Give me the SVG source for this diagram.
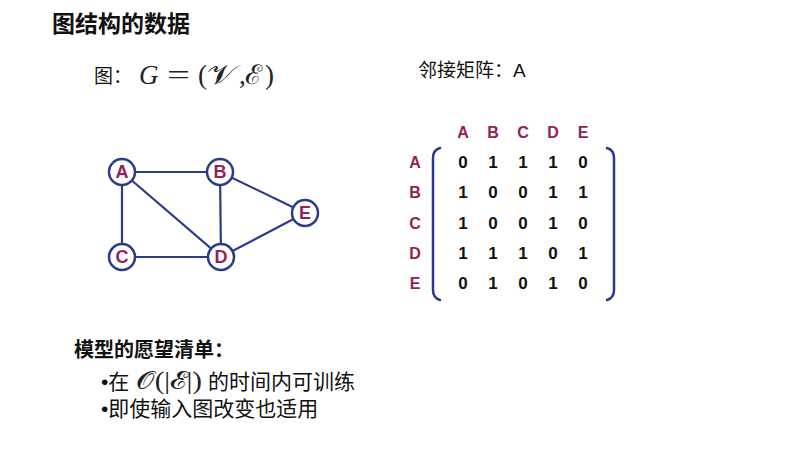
<svg xmlns="http://www.w3.org/2000/svg" width="811" height="462" viewBox="0 0 811 462">
<style>
.cjk{font-family:"Liberation Sans","Noto Sans CJK SC",sans-serif;fill:#111}
.math{font-family:"Liberation Serif","DejaVu Serif",serif;fill:#222}
.lab{font-family:"Liberation Sans",Arial,sans-serif;font-weight:bold;fill:#93215A;text-anchor:middle;dominant-baseline:central}
.num{font-family:"Liberation Sans",Arial,sans-serif;font-weight:bold;fill:#111;text-anchor:middle;dominant-baseline:central;font-size:17px}
.node circle{fill:#fff;stroke:#2B3A8C;stroke-width:2.5}
.node text{font-size:18px}
.edge line{stroke:#2B3A8C;stroke-width:2.2}
.br{fill:none;stroke:#2B3A8C;stroke-width:2.5;stroke-linecap:round}
</style>
<rect width="811" height="462" fill="#fff"/>
<text class="cjk" x="52" y="32" font-size="23" font-weight="bold">图结构的数据</text>
<text class="cjk" x="94" y="83" font-size="19">图：</text>
<g class="math" font-size="27">
<text x="139" y="84" font-style="italic">G</text>
<text x="167" y="84" textLength="23" lengthAdjust="spacingAndGlyphs">=</text>
<text x="198" y="84">(</text>
<text x="207" y="84" textLength="29" lengthAdjust="spacingAndGlyphs">𝒱</text>
<text x="239" y="84">,</text>
<text x="245" y="84" textLength="17" lengthAdjust="spacingAndGlyphs">ℰ</text>
<text x="265" y="84">)</text>
</g>
<text class="cjk" x="418" y="77" font-size="19">邻接矩阵：A</text>
<g id="edges" class="edge">
<line x1="122" y1="172" x2="220" y2="172"/>
<line x1="122" y1="172" x2="122" y2="257"/>
<line x1="122" y1="172" x2="221" y2="257"/>
<line x1="220" y1="172" x2="221" y2="257"/>
<line x1="220" y1="172" x2="305" y2="213"/>
<line x1="122" y1="257" x2="221" y2="257"/>
<line x1="221" y1="257" x2="305" y2="213"/>
</g>
<g id="node-A" class="node"><circle cx="122" cy="172" r="13"/><text class="lab" x="122" y="172">A</text></g>
<g id="node-B" class="node"><circle cx="220" cy="172" r="13"/><text class="lab" x="220" y="172">B</text></g>
<g id="node-C" class="node"><circle cx="122" cy="257" r="13"/><text class="lab" x="122" y="257">C</text></g>
<g id="node-D" class="node"><circle cx="221" cy="257" r="13"/><text class="lab" x="221" y="257">D</text></g>
<g id="node-E" class="node"><circle cx="305" cy="213" r="13"/><text class="lab" x="305" y="213">E</text></g>
<g id="matrix">
<g font-size="16">
<text class="lab" x="463" y="132">A</text><text class="lab" x="493" y="132">B</text><text class="lab" x="523" y="132">C</text><text class="lab" x="553" y="132">D</text><text class="lab" x="583" y="132">E</text>
<text class="lab" x="415" y="162">A</text><text class="lab" x="415" y="192">B</text><text class="lab" x="415" y="223">C</text><text class="lab" x="415" y="253">D</text><text class="lab" x="415" y="283">E</text>
</g>
<path class="br" d="M440,148 Q433,150 433,158 L433,290 Q433,298 440,300"/>
<path class="br" d="M607,148 Q614,150 614,158 L614,290 Q614,298 607,300"/>
<text class="num" x="463" y="162">0</text><text class="num" x="493" y="162">1</text><text class="num" x="523" y="162">1</text><text class="num" x="553" y="162">1</text><text class="num" x="583" y="162">0</text>
<text class="num" x="463" y="192">1</text><text class="num" x="493" y="192">0</text><text class="num" x="523" y="192">0</text><text class="num" x="553" y="192">1</text><text class="num" x="583" y="192">1</text>
<text class="num" x="463" y="223">1</text><text class="num" x="493" y="223">0</text><text class="num" x="523" y="223">0</text><text class="num" x="553" y="223">1</text><text class="num" x="583" y="223">0</text>
<text class="num" x="463" y="253">1</text><text class="num" x="493" y="253">1</text><text class="num" x="523" y="253">1</text><text class="num" x="553" y="253">0</text><text class="num" x="583" y="253">1</text>
<text class="num" x="463" y="283">0</text><text class="num" x="493" y="283">1</text><text class="num" x="523" y="283">0</text><text class="num" x="553" y="283">1</text><text class="num" x="583" y="283">0</text>
</g>
<text class="cjk" x="74" y="357" font-size="20" font-weight="bold">模型的愿望清单：</text>
<text class="cjk" x="101" y="389" font-size="21">•在</text>
<text class="math" x="136" y="389" font-size="25" textLength="66" lengthAdjust="spacingAndGlyphs">𝒪(|ℰ|)</text>
<text class="cjk" x="208" y="389" font-size="21">的时间内可训练</text>
<text class="cjk" x="101" y="416" font-size="21">•即使输入图改变也适用</text>
</svg>
